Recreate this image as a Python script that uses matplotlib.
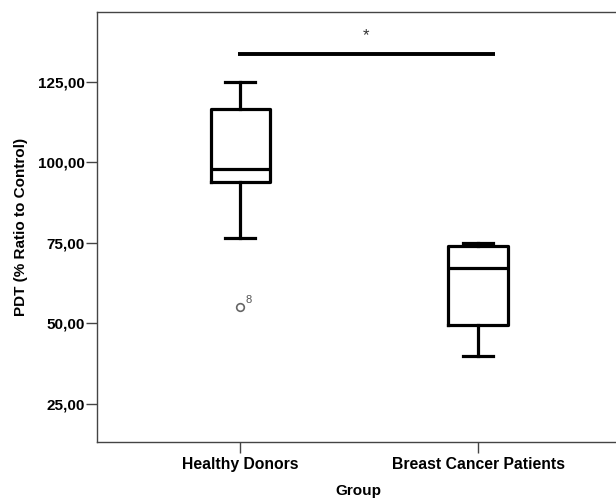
import matplotlib
matplotlib.use("Agg")
import matplotlib.pyplot as plt

groups = ["Healthy Donors", "Breast Cancer Patients"]
whisker_low = [76.6, 40.0]
q1 = [94.0, 49.5]
median = [97.8, 67.3]
q3 = [116.5, 74.1]
whisker_high = [125.0, 74.8]
outliers = [[55.2], []]
outlier_ids = [["8"], []]
yticks = [25, 50, 75, 100, 125]
sig_y = 133.6

plt.rcParams['font.family'] = ['Liberation Sans', 'DejaVu Sans']
fig = plt.figure(figsize=(6.16, 4.99), dpi=100)
ax = fig.add_axes([0.1575, 0.1148, 0.85, 0.8612])

stats = []
for i in range(len(groups)):
    stats.append(dict(med=median[i], q1=q1[i], q3=q3[i], whislo=whisker_low[i],
                      whishi=whisker_high[i], fliers=outliers[i], label=groups[i]))
pos = [1, 2]
lw = 2.3
ax.bxp(stats, positions=pos, widths=0.25, showfliers=False,
       boxprops=dict(color='black', linewidth=lw),
       medianprops=dict(color='black', linewidth=lw),
       whiskerprops=dict(color='black', linewidth=lw),
       capprops=dict(color='black', linewidth=lw), capwidths=0.125)

for p, outs, ids in zip(pos, outliers, outlier_ids):
    for v, t in zip(outs, ids):
        ax.plot([p], [v], marker='o', markersize=5.5, markerfacecolor='white',
                markeredgecolor='#666666', markeredgewidth=1.2, linestyle='none')
        ax.annotate(t, (p, v), xytext=(3.5, 2.5), textcoords='offset points',
                    fontsize=8, color='#555555')

ax.plot([0.99, 2.07], [sig_y, sig_y], color='black', linewidth=2.8, solid_capstyle='butt')
ax.text(1.53, sig_y + 3.2, "*", ha='center', va='bottom', fontsize=12, color='#333333')

ax.set_xlim(0.397, 2.6)
ax.set_ylim(13.3, 146.6)
ax.set_yticks(yticks)
ax.set_yticklabels([f"{v:.2f}".replace('.', ',') for v in yticks], fontweight='bold', fontsize=11)
ax.set_xticks(pos)
ax.set_xticklabels(groups, fontweight='bold', fontsize=11.3)
ax.set_xlabel("Group", fontweight='bold', fontsize=11)
ax.set_ylabel("PDT (% Ratio to Control)", fontweight='bold', fontsize=11)
ax.xaxis.set_label_coords(0.5, -0.098)
ax.yaxis.set_label_coords(-0.132, 0.5)
for s in ['left', 'bottom', 'top', 'right']:
    ax.spines[s].set_color('#444444')
    ax.spines[s].set_linewidth(1.0)
ax.spines['right'].set_visible(False)
ax.tick_params(axis='both', length=8, width=1, color='#444444', pad=1)
ax.tick_params(axis='x', pad=3)
fig.savefig("out.png", dpi=100)
